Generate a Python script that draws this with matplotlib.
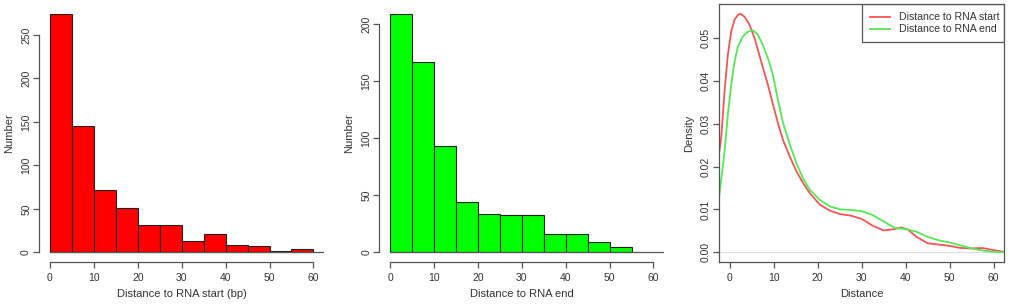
import matplotlib
matplotlib.use('Agg')
import matplotlib.pyplot as plt
import matplotlib.patches as patches
import numpy as np

plt.rcParams['font.family'] = ['Liberation Sans', 'DejaVu Sans']

# histogram bins (5 bp wide)
bin_edges = [0, 5, 10, 15, 20, 25, 30, 35, 40, 45, 50, 55, 60]
start_counts = [274, 145, 72, 51, 31, 31, 13, 21, 9, 7, 2, 4]
end_counts = [209, 167, 93, 44, 34, 33, 33, 16, 16, 9, 5]

# density curves
start_dens_x = [-2.4, -1.98, -1.21, -0.46, 0.30, 1.06, 1.82, 2.43, 3.34, 4.48,
                5.62, 7.14, 8.66, 10.2, 11.2, 12.1, 13.7, 15.2, 16.7, 18.2,
                20.5, 22.8, 25.1, 27.3, 30, 32.5, 35, 37.5, 39, 40.5, 42.5,
                45, 47.5, 50, 52.5, 55, 57.5, 60, 62.4]
start_dens_y = [0.0235, 0.0266, 0.0375, 0.0461, 0.0515, 0.0543, 0.0554, 0.0557,
                0.0550, 0.0531, 0.0500, 0.0445, 0.0391, 0.0330, 0.0292, 0.0262,
                0.0222, 0.0188, 0.0161, 0.0138, 0.0111, 0.0097, 0.0089, 0.0086,
                0.0078, 0.0062, 0.0051, 0.0054, 0.0058, 0.0053, 0.0036, 0.0021,
                0.0018, 0.0015, 0.0010, 0.0009, 0.0010, 0.0005, 0.0001]
end_dens_x = [-2.4, -1.21, -0.46, 0.30, 1.06, 1.82, 2.96, 4.1, 5.24, 6.38, 7.5,
              8.66, 9.8, 10.9, 12.1, 13.7, 15.2, 16.7, 18.2, 20.5, 22.8, 25.1,
              27.3, 30, 32.5, 35, 37.5, 40, 42.5, 45, 47.5, 50, 52.5, 55, 57.5,
              60, 62.4]
end_dens_y = [0.0133, 0.0235, 0.0321, 0.0391, 0.0445, 0.0480, 0.0504, 0.0515,
              0.0518, 0.0508, 0.0484, 0.0453, 0.0414, 0.0358, 0.0302, 0.0250,
              0.0206, 0.0171, 0.0146, 0.0122, 0.0107, 0.0100, 0.0099, 0.0096,
              0.0087, 0.0072, 0.0057, 0.0054, 0.0048, 0.0036, 0.0028, 0.0023,
              0.0016, 0.0009, 0.0004, 0.0001, 0.0]
legend_labels = ['Distance to RNA start', 'Distance to RNA end']

AX = '#555555'
TXT = '#333333'
RED_LINE = '#F25555'
GREEN_LINE = '#55E855'
FS = 7.5

fig = plt.figure(figsize=(10.09, 3.04), dpi=100, facecolor='white')


def tick_style(ax):
    ax.tick_params(colors=AX, labelcolor=TXT, labelsize=FS, length=4.5, width=0.9)
    ax.tick_params(axis='y', pad=1.5)
    for lab in ax.get_yticklabels():
        lab.set_rotation(90)
        lab.set_va('center')


def r_style(ax, ybounds):
    for s in ['top', 'right']:
        ax.spines[s].set_visible(False)
    for s in ['left', 'bottom']:
        ax.spines[s].set_color(AX)
        ax.spines[s].set_linewidth(0.9)
    ax.spines['bottom'].set_bounds(0, 60)
    ax.spines['left'].set_bounds(*ybounds)
    ax.set_xticks([0, 10, 20, 30, 40, 50, 60])
    tick_style(ax)


def hist_panel(left, counts, color, xlabel, yticks):
    ax = fig.add_axes([left, 0.1385, 0.282, 0.8464])
    edges = bin_edges[:len(counts) + 1]
    ax.bar(edges[:-1], counts, width=5, align='edge', color=color,
           edgecolor='#222222', linewidth=0.8)
    ax.hlines(0, 0, 62.4, color=AX, lw=0.9)
    top = max(counts)
    ax.set_xlim(-2.4, 62.4)
    ax.set_ylim(-0.04 * top, 1.04 * top)
    ax.set_yticks(yticks)
    r_style(ax, (yticks[0], yticks[-1]))
    ax.set_xlabel(xlabel, fontsize=FS + 0.5, color=TXT, labelpad=4)
    ax.set_ylabel('Number', fontsize=FS + 0.5, color=TXT, labelpad=5)
    return ax


hist_panel(0.0391, start_counts, '#FF0000', 'Distance to RNA start (bp)',
           [0, 50, 100, 150, 200, 250])
hist_panel(0.3761, end_counts, '#00FF00', 'Distance to RNA end',
           [0, 50, 100, 150, 200])

# density panel
ax = fig.add_axes([0.7129, 0.1372, 0.2822, 0.8487])
ax.axhline(0, color='#dddddd', lw=0.8)
ax.plot(start_dens_x, start_dens_y, color=RED_LINE, lw=1.3)
ax.plot(end_dens_x, end_dens_y, color=GREEN_LINE, lw=1.3)
ax.set_xlim(-2.4, 62.4)
ax.set_ylim(-0.00234, 0.0579)
ax.set_xticks([0, 10, 20, 30, 40, 50, 60])
ax.set_yticks([0.0, 0.01, 0.02, 0.03, 0.04, 0.05])
ax.set_yticklabels(['0.00', '0.01', '0.02', '0.03', '0.04', '0.05'])
for s in ax.spines.values():
    s.set_color(AX)
    s.set_linewidth(0.9)
tick_style(ax)
ax.set_xlabel('Distance', fontsize=FS + 0.5, color=TXT, labelpad=4)
ax.set_ylabel('Density', fontsize=FS + 0.5, color=TXT, labelpad=5)

# R-style legend box
ax.add_patch(patches.Rectangle((0.501, 0.852), 0.499, 0.148,
                               transform=ax.transAxes, fill=False,
                               edgecolor=AX, lw=0.9, zorder=5))
for yy, col, lab in zip([0.952, 0.903], [RED_LINE, GREEN_LINE], legend_labels):
    ax.plot([0.530, 0.598], [yy, yy], transform=ax.transAxes, color=col,
            lw=1.3, zorder=6)
    ax.text(0.631, yy, lab, transform=ax.transAxes, fontsize=7.6,
            color=TXT, va='center', ha='left', clip_on=False, zorder=6)

plt.savefig('out.png', dpi=100, facecolor='white')
